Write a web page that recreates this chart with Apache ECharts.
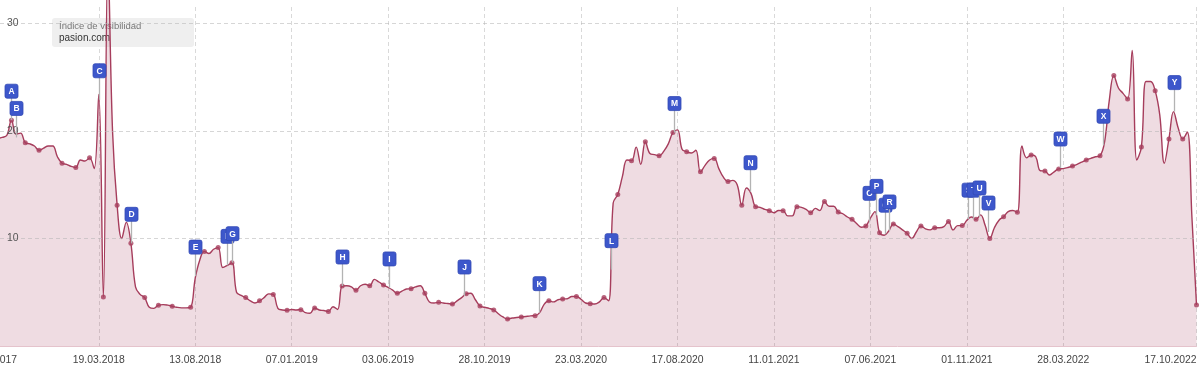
<!DOCTYPE html>
<html>
<head>
<meta charset="utf-8">
<script src="https://cdn.jsdelivr.net/npm/echarts@6/dist/echarts.min.js"></script>
<style>html,body{margin:0;padding:0;background:#fff}#c{width:1200px;height:371px}</style>
</head>
<body>
<div id="c"></div>
<script>
// weekly visibility index (pasion.com)
const dates = [
'2017-10-16','2017-10-23','2017-10-30','2017-11-06','2017-11-13','2017-11-20','2017-11-27','2017-12-04','2017-12-11','2017-12-18','2017-12-25',
'2018-01-01','2018-01-08','2018-01-15','2018-01-22','2018-01-29','2018-02-05','2018-02-12','2018-02-19','2018-02-26','2018-03-05','2018-03-12',
'2018-03-19','2018-03-26','2018-04-02','2018-04-09','2018-04-16','2018-04-23','2018-04-30','2018-05-07','2018-05-14','2018-05-21','2018-05-28',
'2018-06-04','2018-06-11','2018-06-18','2018-06-25','2018-07-02','2018-07-09','2018-07-16','2018-07-23','2018-07-30','2018-08-06','2018-08-13',
'2018-08-20','2018-08-27','2018-09-03','2018-09-10','2018-09-17','2018-09-24','2018-10-01','2018-10-08','2018-10-15','2018-10-22','2018-10-29',
'2018-11-05','2018-11-12','2018-11-19','2018-11-26','2018-12-03','2018-12-10','2018-12-17','2018-12-24','2018-12-31',
'2019-01-07','2019-01-14','2019-01-21','2019-01-28','2019-02-04','2019-02-11','2019-02-18','2019-02-25','2019-03-04','2019-03-11','2019-03-18',
'2019-03-25','2019-04-01','2019-04-08','2019-04-15','2019-04-22','2019-04-29','2019-05-06','2019-05-13','2019-05-20','2019-05-27','2019-06-03',
'2019-06-10','2019-06-17','2019-06-24','2019-07-01','2019-07-08','2019-07-15','2019-07-22','2019-07-29','2019-08-05','2019-08-12','2019-08-19',
'2019-08-26','2019-09-02','2019-09-09','2019-09-16','2019-09-23','2019-09-30','2019-10-07','2019-10-14','2019-10-21','2019-10-28','2019-11-04',
'2019-11-11','2019-11-18','2019-11-25','2019-12-02','2019-12-09','2019-12-16','2019-12-23','2019-12-30',
'2020-01-06','2020-01-13','2020-01-20','2020-01-27','2020-02-03','2020-02-10','2020-02-17','2020-02-24','2020-03-02','2020-03-09','2020-03-16',
'2020-03-23','2020-03-30','2020-04-06','2020-04-13','2020-04-20','2020-04-27','2020-05-04','2020-05-11','2020-05-18','2020-05-25','2020-06-01',
'2020-06-08','2020-06-15','2020-06-22','2020-06-29','2020-07-06','2020-07-13','2020-07-20','2020-07-27','2020-08-03','2020-08-10','2020-08-17',
'2020-08-24','2020-08-31','2020-09-07','2020-09-14','2020-09-21','2020-09-28','2020-10-05','2020-10-12','2020-10-19','2020-10-26','2020-11-02',
'2020-11-09','2020-11-16','2020-11-23','2020-11-30','2020-12-07','2020-12-14','2020-12-21','2020-12-28',
'2021-01-04','2021-01-11','2021-01-18','2021-01-25','2021-02-01','2021-02-08','2021-02-15','2021-02-22','2021-03-01','2021-03-08','2021-03-15',
'2021-03-22','2021-03-29','2021-04-05','2021-04-12','2021-04-19','2021-04-26','2021-05-03','2021-05-10','2021-05-17','2021-05-24','2021-05-31',
'2021-06-07','2021-06-14','2021-06-21','2021-06-28','2021-07-05','2021-07-12','2021-07-19','2021-07-26','2021-08-02','2021-08-09','2021-08-16',
'2021-08-23','2021-08-30','2021-09-06','2021-09-13','2021-09-20','2021-09-27','2021-10-04','2021-10-11','2021-10-18','2021-10-25','2021-11-01',
'2021-11-08','2021-11-15','2021-11-22','2021-11-29','2021-12-06','2021-12-13','2021-12-20','2021-12-27',
'2022-01-03','2022-01-10','2022-01-17','2022-01-24','2022-01-31','2022-02-07','2022-02-14','2022-02-21','2022-02-28','2022-03-07','2022-03-14',
'2022-03-21','2022-03-28','2022-04-04','2022-04-11','2022-04-18','2022-04-25','2022-05-02','2022-05-09','2022-05-16','2022-05-23','2022-05-30',
'2022-06-06','2022-06-13','2022-06-20','2022-06-27','2022-07-04','2022-07-11','2022-07-18','2022-07-25','2022-08-01','2022-08-08','2022-08-15',
'2022-08-22','2022-08-29','2022-09-05','2022-09-12','2022-09-19','2022-09-26','2022-10-03','2022-10-10','2022-10-17'
];
const values = [
19.3,19.4,19.6,21.0,19.7,19.8,18.9,18.8,18.6,18.2,18.4,
18.6,18.6,17.6,17.0,16.9,16.7,16.6,17.3,17.2,17.5,16.5,
23.4,4.56,36,20,13.1,10.0,11.5,9.55,5.5,4.8,4.5,
3.6,3.5,3.8,3.85,3.8,3.7,3.6,3.55,3.55,3.6,6.3,
8.0,8.8,8.6,9.0,9.15,7.3,7.5,7.75,5.0,4.7,4.5,
4.2,4.0,4.2,4.5,4.85,4.8,3.5,3.35,3.32,
3.4,3.35,3.38,3.1,3.05,3.53,3.35,3.3,3.22,3.65,3.4,
5.58,5.6,5.5,5.18,5.6,5.75,5.6,6.2,5.95,5.67,5.45,
5.2,4.9,5.1,5.3,5.33,5.5,5.6,4.9,4.1,4.0,4.06,
4.0,3.95,3.9,4.2,4.5,4.85,4.9,4.3,3.72,3.6,3.5,
3.35,3.0,2.7,2.51,2.6,2.65,2.7,2.75,
2.8,2.82,3.1,3.9,4.21,4.1,4.3,4.37,4.4,4.6,4.6,
4.35,4.0,3.94,3.9,4.1,4.5,4.2,13.3,14.1,15.75,17.3,
17.24,18.5,16.9,19.0,17.9,17.8,17.7,18.1,18.8,19.85,20.1,
18.3,18.07,17.95,18.2,16.2,16.8,17.3,17.45,16.5,15.7,15.3,
15.4,15.0,13.1,14.7,14.2,12.96,12.9,12.7,
12.59,12.4,12.6,12.59,12.1,12.1,12.96,12.9,12.7,12.4,12.8,
12.6,13.43,13.0,13.0,12.47,12.3,12.0,11.78,11.4,11.05,11.16,
11.9,12.5,10.54,10.3,10.7,11.35,11.1,10.8,10.48,10.0,10.6,
11.16,10.9,10.8,11.0,11.0,11.1,11.57,10.8,11.2,11.2,11.7,
12.0,11.78,12.2,11.2,10.0,11.0,11.7,12.03,
12.5,12.6,12.43,18.6,17.5,17.77,17.6,16.3,16.28,15.9,16.2,
16.47,16.5,16.6,16.74,16.9,17.1,17.3,17.45,17.6,17.7,19.0,
22.8,25.15,24.0,23.5,22.98,27.5,17.3,18.5,24.6,24.6,23.75,
21.5,17.0,19.26,21.8,20.3,19.26,19.9,12.0,3.81
];
// weeks drawn with a marker dot
const dotDates = [
'2017-11-06','2017-11-27','2017-12-18','2018-01-22','2018-02-12','2018-03-05','2018-03-26','2018-04-16','2018-05-07','2018-05-28',
'2018-06-18','2018-07-09','2018-08-06','2018-08-27','2018-09-17','2018-10-08','2018-10-29','2018-11-19','2018-12-10','2018-12-31',
'2019-01-21','2019-02-11','2019-03-04','2019-03-25','2019-04-15','2019-05-06','2019-05-27','2019-06-17','2019-07-08','2019-07-29',
'2019-08-19','2019-09-09','2019-09-30','2019-10-21','2019-11-11','2019-12-02','2019-12-23','2020-01-13','2020-02-03','2020-02-24',
'2020-03-16','2020-04-06','2020-04-27','2020-05-18','2020-06-08','2020-06-29','2020-07-20','2020-08-10','2020-08-31','2020-09-21',
'2020-10-12','2020-11-02','2020-11-23','2020-12-14','2021-01-04','2021-01-25','2021-02-15','2021-03-08','2021-03-29','2021-04-19',
'2021-05-10','2021-05-31','2021-06-21','2021-07-12','2021-08-02','2021-08-23','2021-09-13','2021-10-04','2021-10-25','2021-11-15',
'2021-12-06','2021-12-27','2022-01-17','2022-02-07','2022-02-28','2022-03-21','2022-04-11','2022-05-02','2022-05-23','2022-06-13',
'2022-07-04','2022-07-25','2022-08-15','2022-09-05','2022-09-26','2022-10-17'
];
// event flags
const flagLetters = ['A','B','C','D','E','F','G','H','I','J','K','L','M','N','O','P','Q','R','S','T','U','V','W','X','Y'];
const flagDates = ['2017-11-06','2017-11-13','2018-03-19','2018-05-07','2018-08-13','2018-10-01','2018-10-08','2019-03-25','2019-06-05',
'2019-09-26','2020-01-19','2020-05-07','2020-08-11','2020-12-06','2021-06-05','2021-06-15','2021-06-30','2021-07-05','2021-11-03',
'2021-11-11','2021-11-20','2021-12-04','2022-03-23','2022-05-28','2022-09-12'];
const flagValues = [21.0,19.4,22.9,9.55,6.5,7.5,7.75,5.58,5.4,4.65,3.1,7.1,19.85,14.35,11.5,12.15,10.4,10.7,11.8,11.8,12.0,10.6,16.55,18.67,21.8];
// x axis labels
const tickDates = ['2018-03-19','2018-08-13','2019-01-07','2019-06-03','2019-10-28','2020-03-23','2020-08-17','2021-01-11',
'2021-06-07','2021-11-01','2022-03-28','2022-10-17'];
const yTicks = [0,10,20,30];
const yLabels = [10,20,30];

const T = d => Date.parse(d + 'T00:00:00Z');
const lineData = dates.map((d, i) => [T(d), values[i]]);
const valueByDate = {};
dates.forEach((d, i) => { valueByDate[d] = values[i]; });
const dotData = dotDates.map(d => [T(d), valueByDate[d]]);
const flagData = flagDates.map((d, i) => [T(d), flagValues[i]]);

const LINE = '#a63d5c';
const FONT = '"Liberation Sans", Arial, sans-serif';
const pad = n => (n < 10 ? '0' : '') + n;
const fmt = v => { const d = new Date(v); return pad(d.getUTCDate()) + '.' + pad(d.getUTCMonth() + 1) + '.' + d.getUTCFullYear(); };

const chart = echarts.init(document.getElementById('c'), null, {renderer: 'canvas'});
chart.setOption({
  animation: false,
  textStyle: {fontFamily: FONT},
  grid: {left: 0, right: 3.5, top: 7, bottom: 25, containLabel: false, outerBoundsMode: 'none'},
  xAxis: {
    type: 'value',
    min: Date.parse('2017-10-19T12:00:00Z'),
    max: T('2022-10-17'),
    axisLine: {show: true, lineStyle: {color: '#e5c3cc', width: 1}},
    axisTick: {show: false, customValues: tickDates.map(T)},
    axisLabel: {customValues: tickDates.map(T), formatter: fmt, color: '#444', fontSize: 10.4, margin: 9,
                alignMaxLabel: 'right', showMaxLabel: true, showMinLabel: true, hideOverlap: false},
    splitLine: {show: true, lineStyle: {color: '#d9d9d9', type: [4, 3], width: 1}}
  },
  yAxis: {
    type: 'value', min: 0, max: 31.53, interval: 10, z: 3,
    axisLine: {show: false}, axisTick: {show: false, customValues: yTicks},
    axisLabel: {inside: true, margin: 7, color: '#555', fontSize: 10.4, customValues: yLabels},
    splitLine: {show: true, showMinLine: false, showMaxLine: true, lineStyle: {color: 'rgba(180,180,180,0.55)', type: [4, 3], width: 1}}
  },
  graphic: [
    {type: 'rect', z: 1, shape: {x: 52, y: 18, width: 142, height: 29, r: 3}, style: {fill: '#efefef'}},
    {type: 'text', z: 1, style: {text: 'Índice de visibilidad', x: 59, y: 26, verticalAlign: 'middle', fill: '#777', fontSize: 9.5, fontFamily: FONT}},
    {type: 'text', z: 1, style: {text: 'pasion.com', x: 59, y: 38.5, verticalAlign: 'middle', fill: '#333', fontSize: 10, fontFamily: FONT}},
    {type: 'text', z: 1, style: {text: '23.10.2017', x: 17, y: 360, align: 'right', verticalAlign: 'middle', fill: '#444', fontSize: 10.4, fontFamily: FONT}}
  ],
  series: [
    {
      type: 'line', data: lineData, smooth: 0.4, showSymbol: false, clip: false,
      lineStyle: {color: LINE, width: 1.4},
      areaStyle: {color: 'rgba(166,61,92,0.18)', opacity: 1},
      z: 2
    },
    {
      type: 'scatter', data: dotData, symbolSize: 5, itemStyle: {color: LINE}, z: 4
    },
    {
      type: 'custom', data: flagData, clip: false, z: 5,
      renderItem: function (params, api) {
        const p = api.coord([api.value(0), api.value(1)]);
        const fx = Math.round(p[0]) + 0.5, fy = p[1] - 29;
        return {type: 'group', children: [
          {type: 'line', shape: {x1: fx, y1: p[1], x2: fx, y2: fy + 6}, style: {stroke: '#b3b3b3', lineWidth: 1.3}},
          {type: 'rect', shape: {x: fx - 6.5, y: fy - 7, width: 13, height: 14, r: 2}, style: {fill: '#3d57cb', stroke: '#3249b5', lineWidth: 0.8}},
          {type: 'text', style: {text: flagLetters[params.dataIndex], x: fx, y: fy + 0.5, align: 'center', verticalAlign: 'middle',
                                 fill: '#fff', fontSize: 8.5, fontWeight: 'bold', fontFamily: FONT}}
        ]};
      }
    }
  ]
});
</script>
</body>
</html>
